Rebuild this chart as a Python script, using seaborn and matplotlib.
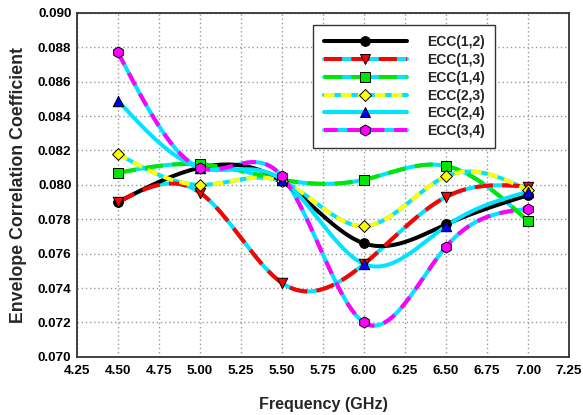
import numpy as np
import pandas as pd
import matplotlib
matplotlib.use("Agg")
import matplotlib.pyplot as plt
from matplotlib.lines import Line2D
import seaborn as sns

# Frequency points (GHz) and ECC values for each antenna pair
freq = [4.5, 5.0, 5.5, 6.0, 6.5, 7.0]
ecc_12 = [0.0790, 0.0810, 0.0802, 0.0766, 0.0777, 0.0794]
ecc_13 = [0.0790, 0.07955, 0.0743, 0.0754, 0.0793, 0.0799]
ecc_14 = [0.0807, 0.0812, 0.0803, 0.0803, 0.0811, 0.0779]
ecc_23 = [0.0818, 0.0800, 0.0802, 0.0776, 0.0805, 0.0797]
ecc_24 = [0.0849, 0.0810, 0.0803, 0.0754, 0.0776, 0.0796]
ecc_34 = [0.0877, 0.0810, 0.0805, 0.0720, 0.0764, 0.0786]

labels = ["ECC(1,2)", "ECC(1,3)", "ECC(1,4)", "ECC(2,3)", "ECC(2,4)", "ECC(3,4)"]
series = [ecc_12, ecc_13, ecc_14, ecc_23, ecc_24, ecc_34]

x_ticks = [4.25 + 0.25 * i for i in range(13)]
y_ticks = [0.070 + 0.002 * i for i in range(11)]


def natural_spline(x, y, n=300):
    """Natural cubic spline through (x, y), evaluated on a dense grid."""
    x = np.asarray(x, float)
    y = np.asarray(y, float)
    k = len(x)
    h = np.diff(x)
    A = np.zeros((k, k))
    b = np.zeros(k)
    A[0, 0] = A[-1, -1] = 1.0
    for i in range(1, k - 1):
        A[i, i - 1] = h[i - 1]
        A[i, i] = 2 * (h[i - 1] + h[i])
        A[i, i + 1] = h[i]
        b[i] = 3 * ((y[i + 1] - y[i]) / h[i] - (y[i] - y[i - 1]) / h[i - 1])
    c = np.linalg.solve(A, b)
    xs = np.linspace(x[0], x[-1], n)
    idx = np.clip(np.searchsorted(x, xs) - 1, 0, k - 2)
    dx = xs - x[idx]
    bb = (y[idx + 1] - y[idx]) / h[idx] - h[idx] * (2 * c[idx] + c[idx + 1]) / 3
    dd = (c[idx + 1] - c[idx]) / (3 * h[idx])
    ys = y[idx] + bb * dx + c[idx] * dx ** 2 + dd * dx ** 3
    return xs, ys


sns.set_style("white")
plt.rcParams["font.family"] = ["Liberation Sans", "DejaVu Sans"]
plt.rcParams["font.weight"] = "bold"

fig = plt.figure(figsize=(5.83, 4.15), dpi=100)
ax = fig.add_axes([0.132, 0.14, 0.844, 0.829])

# (line colour, dash pattern or None, underlay colour, marker, marker face)
styles = [
    ("black", None, None, "o", "black"),
    ("#ff0000", (4.5, 2.3), "#00e5ff", "v", "#ff0000"),
    ("#00e600", (4.5, 2.3), "#00e5ff", "s", "#00e600"),
    ("#ffff00", (2.6, 1.6), "#00e5ff", "D", "#ffff00"),
    ("#00e5ff", None, None, "^", "#0000ff"),
    ("#ff00ff", (3.4, 2.4), "#00e5ff", "h", "#ff00ff"),
]
msizes = {"o": 7, "v": 7.5, "s": 6.5, "D": 6, "^": 7.5, "h": 8}
lw = 2.9

handles = []
for lab, vals, (col, dash, under, mk, mface) in zip(labels, series, styles):
    xs, ys = natural_spline(freq, vals)
    hs = []
    if under is not None:
        ax.plot(xs, ys, color=under, lw=lw, solid_capstyle="butt", zorder=2)
        hs.append(Line2D([], [], color=under, lw=lw))
    ln, = ax.plot(xs, ys, color=col, lw=lw, zorder=2.1,
                  solid_capstyle="butt", dash_capstyle="butt")
    if dash is not None:
        ln.set_dashes(dash)
    df = pd.DataFrame({"f": freq, "v": vals})
    sns.scatterplot(data=df, x="f", y="v", marker=mk, s=msizes[mk] ** 2,
                    color=mface, edgecolor="black", linewidth=0.7,
                    zorder=3, ax=ax)
    top = Line2D([], [], color=col, lw=lw, marker=mk, markersize=msizes[mk],
                 markerfacecolor=mface, markeredgecolor="black",
                 markeredgewidth=0.7, dash_capstyle="butt")
    if dash is not None:
        top.set_dashes(dash)
    hs.append(top)
    handles.append(tuple(hs))

ax.set_xlim(4.25, 7.25)
ax.set_ylim(0.070, 0.090)
ax.set_xticks(x_ticks)
ax.set_xticklabels([f"{t:.2f}" for t in x_ticks])
ax.set_yticks(y_ticks)
ax.set_yticklabels([f"{t:.3f}" for t in y_ticks])
ax.tick_params(direction="in", length=4, width=1.5, labelsize=9.7,
               colors="#555555", labelcolor="black")
ax.tick_params(axis="x", pad=6)
ax.tick_params(axis="y", pad=4)
for t in ax.get_xticklabels() + ax.get_yticklabels():
    t.set_fontweight("bold")

ax.grid(True, color="#9a9a9a", linestyle=(0, (1, 2)), linewidth=1)
ax.set_axisbelow(True)
for sp in ax.spines.values():
    sp.set_color("#333333")
    sp.set_linewidth(1.3)

ax.set_xlabel("Frequency (GHz)", fontsize=11.6, fontweight="bold",
              labelpad=14)
ax.set_ylabel("Envelope Correlation Coefficient", fontsize=12.8,
              fontweight="bold", labelpad=8)

leg = ax.legend(handles, labels, loc="upper left",
                bbox_to_anchor=(0.480, 0.965), borderaxespad=0,
                handlelength=6.0, handletextpad=1.45, labelspacing=0.27,
                borderpad=0.75, fancybox=False, framealpha=1,
                edgecolor="#333333", prop={"weight": "bold", "size": 10})
leg.get_frame().set_linewidth(1.0)

fig.savefig("out.png", dpi=100)
